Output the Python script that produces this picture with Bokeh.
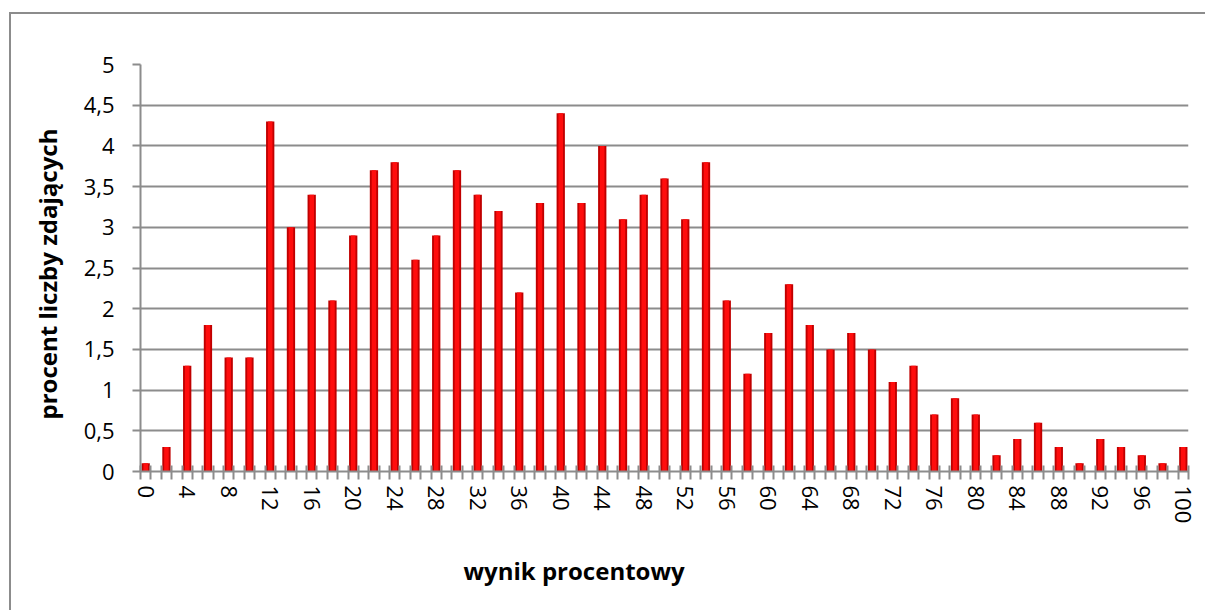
import numpy as np
from bokeh.plotting import figure
from bokeh.models import FixedTicker, ColumnDataSource, Title
from bokeh.embed import file_html
from bokeh.resources import INLINE

scores = list(range(0, 101, 2))
values = [0.1, 0.3, 1.3, 1.8, 1.4, 1.4, 4.3, 3.0, 3.4, 2.1, 2.9, 3.7, 3.8, 2.6, 2.9,
          3.7, 3.4, 3.2, 2.2, 3.3, 4.4, 3.3, 4.0, 3.1, 3.4, 3.6, 3.1, 3.8, 2.1, 1.2,
          1.7, 2.3, 1.8, 1.5, 1.7, 1.5, 1.1, 1.3, 0.7, 0.9, 0.7, 0.2, 0.4, 0.6, 0.3,
          0.1, 0.4, 0.3, 0.2, 0.1, 0.3]
y_ticks = [0, 0.5, 1, 1.5, 2, 2.5, 3, 3.5, 4, 4.5, 5]
x_title = "wynik procentowy"
y_title = "procent liczby zdających"

idx = list(range(len(scores)))
src = ColumnDataSource(dict(x=idx, top=values))

FONT = "Open Sans"
GRID = "#8c8c8c"

p = figure(width=1196, height=598, output_backend="svg", toolbar_location=None,
           x_range=(-0.25, len(scores) - 0.75), y_range=(0, 5),
           min_border_left=128, min_border_right=19, min_border_top=50,
           min_border_bottom=138, outline_line_color=None,
           margin=(12, 0, 0, 9),
           styles={"border-left": "2px solid #8c8c8c", "border-top": "2px solid #8c8c8c"})

# bars: darker body with bright centre to mimic cylindrical shading
p.vbar(x="x", top="top", bottom=0, width=0.40, source=src,
       fill_color="#c00000", line_color=None)
p.vbar(x="x", top="top", bottom=0, width=0.22, source=src,
       fill_color="#ff0d0d", line_color=None)

# x axis
p.xaxis.ticker = FixedTicker(ticks=idx[::2],
                             minor_ticks=[i + d for i in idx for d in (-0.25, 0.25)])
p.xaxis.major_label_overrides = {i: str(s) for i, s in zip(idx, scores)}
p.xaxis.major_label_orientation = "vertical"
p.xaxis.major_tick_line_color = None
p.xaxis.major_tick_out = 8
p.xaxis.major_tick_in = 0
p.xaxis.minor_tick_line_color = GRID
p.xaxis.minor_tick_line_width = 2
p.xaxis.minor_tick_out = 8
p.xaxis.minor_tick_in = 6
p.xaxis.axis_line_color = GRID
p.xaxis.axis_line_width = 2
p.xaxis.major_label_standoff = 6

# y axis
p.yaxis.ticker = FixedTicker(ticks=y_ticks, minor_ticks=[])
p.yaxis.major_label_overrides = {t: (str(t).replace(".", ",") if t % 1 else str(int(t))) for t in y_ticks}
p.yaxis.major_tick_line_color = GRID
p.yaxis.major_tick_line_width = 2
p.yaxis.major_tick_out = 8
p.yaxis.major_tick_in = 0
p.yaxis.axis_line_color = GRID
p.yaxis.axis_line_width = 2
p.yaxis.major_label_standoff = 18

for ax in (p.xaxis, p.yaxis):
    ax.major_label_text_font = FONT
    ax.major_label_text_font_size = "22px"
    ax.major_label_text_color = "#000000"

# axis titles (offset like the reference, which is not centred on the axes)
p.add_layout(Title(text=x_title, align="left", offset=323, standoff=51,
                   text_font=FONT, text_font_size="24px", text_font_style="bold",
                   text_color="#000000"), "below")
p.add_layout(Title(text=y_title, align="left", offset=52, standoff=34,
                   text_font=FONT, text_font_size="24px", text_font_style="bold",
                   text_color="#000000"), "left")

p.xgrid.grid_line_color = None
p.ygrid.ticker = FixedTicker(ticks=y_ticks)
p.ygrid.grid_line_color = GRID
p.ygrid.grid_line_width = 2

open("out.html", "w").write(file_html(p, INLINE))
